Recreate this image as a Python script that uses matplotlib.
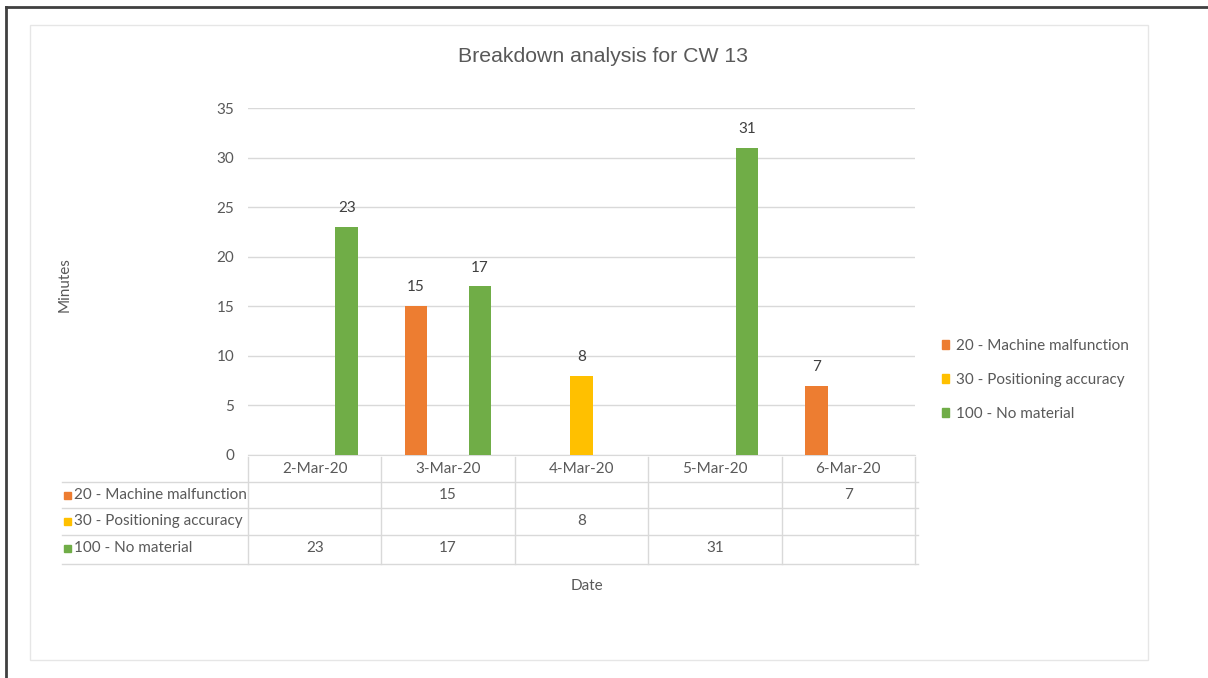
import matplotlib.pyplot as plt
from matplotlib.transforms import blended_transform_factory
from matplotlib.patches import Rectangle
from matplotlib.lines import Line2D
import numpy as np

dates = ['2-Mar-20', '3-Mar-20', '4-Mar-20', '5-Mar-20', '6-Mar-20']
series_names = ['20 - Machine malfunction', '30 - Positioning accuracy', '100 - No material']
machine = [0, 15, 0, 0, 7]
positioning = [0, 0, 8, 0, 0]
no_material = [23, 17, 0, 31, 0]
colors = ['#ED7D31', '#FFC000', '#70AD47']
yticks = [0, 5, 10, 15, 20, 25, 30, 35]

plt.rcParams['font.family'] = ['Lato', 'DejaVu Sans']
txt_c = '#595959'
grid_c = '#D9D9D9'
fs = 11

W, H = 1208, 678
fig = plt.figure(figsize=(W / 100, H / 100), dpi=100)


def fx(px):
    return px / W


def fy(py):
    return 1 - py / H


# outer screenshot border and chart-area frame
fig.add_artist(Line2D([fx(6), fx(6)], [0, fy(7)], color='#404040', lw=2))
fig.add_artist(Line2D([fx(6), 1], [fy(7), fy(7)], color='#404040', lw=2))
fig.add_artist(Rectangle((fx(30), fy(660)), fx(1148) - fx(30), fy(25) - fy(660),
                         fill=False, ec='#E6E6E6', lw=1))

ax = fig.add_axes([fx(248), fy(455), fx(915) - fx(248), fy(108) - fy(455)])
x = np.arange(len(dates))
off = 0.24
bw = 0.17
all_vals = [machine, positioning, no_material]
for k, (vals, c) in enumerate(zip(all_vals, colors)):
    for i, v in enumerate(vals):
        if v == 0:
            continue
        ax.bar(x[i] + (k - 1) * off, v, width=bw, color=c, zorder=3)
        ax.text(x[i] + (k - 1) * off, v + 1.2, str(v), ha='center', va='bottom',
                fontsize=fs, color='#404040')

ax.set_xlim(-0.5, len(dates) - 0.5)
ax.set_ylim(0, 35)
ax.set_yticks(yticks)
ax.set_yticklabels([str(t) for t in yticks], fontsize=fs, color=txt_c)
ax.tick_params(axis='y', length=0, pad=10)
ax.set_xticks(x)
ax.set_xticklabels(dates, fontsize=fs, color=txt_c)
ax.tick_params(axis='x', length=0, pad=5)
ax.grid(axis='y', color=grid_c, lw=1, zorder=0)
for s in ['top', 'right', 'left']:
    ax.spines[s].set_visible(False)
ax.spines['bottom'].set_color(grid_c)

# data table under the axis
tr = blended_transform_factory(ax.transData, fig.transFigure)
row_y = [495, 521, 548]
line_y = [482, 508, 535, 564]
for ly in line_y:
    fig.add_artist(Line2D([fx(62), fx(918)], [fy(ly), fy(ly)], color=grid_c, lw=1))
for b in np.arange(len(dates) + 1) - 0.5:
    ax.add_artist(Line2D([b, b], [fy(457), fy(564)], color=grid_c, lw=1,
                         transform=tr, clip_on=False))
for k, (name, vals, c) in enumerate(zip(series_names, all_vals, colors)):
    yy = fy(row_y[k])
    fig.add_artist(Rectangle((fx(64), yy - 3.5 / H), 7 / W, 7 / H, color=c))
    fig.text(fx(74), yy, name, fontsize=fs, color=txt_c, va='center', ha='left')
    for i, v in enumerate(vals):
        if v:
            fig.text(x[i], yy, str(v), transform=tr, fontsize=fs, color=txt_c,
                     ha='center', va='center')

fig.text(fx(587), fy(586), 'Date', fontsize=fs, color=txt_c, ha='center', va='center')
fig.text(fx(65), fy(285), 'Minutes', fontsize=fs, color=txt_c, ha='center', va='center',
         rotation=90)
fig.text(fx(603), fy(57), 'Breakdown analysis for CW 13', fontsize=15.3,
         family=['Liberation Sans', 'DejaVu Sans'], color=txt_c, ha='center', va='center')

handles = [Rectangle((0, 0), 1, 1, color=c) for c in colors]
fig.legend(handles, series_names, loc='center left', bbox_to_anchor=(fx(928), fy(380)),
           frameon=False, fontsize=fs, labelcolor=txt_c, handlelength=0.5, handleheight=0.5,
           handletextpad=0.4, labelspacing=1.3)

fig.savefig('out.png', dpi=100)
